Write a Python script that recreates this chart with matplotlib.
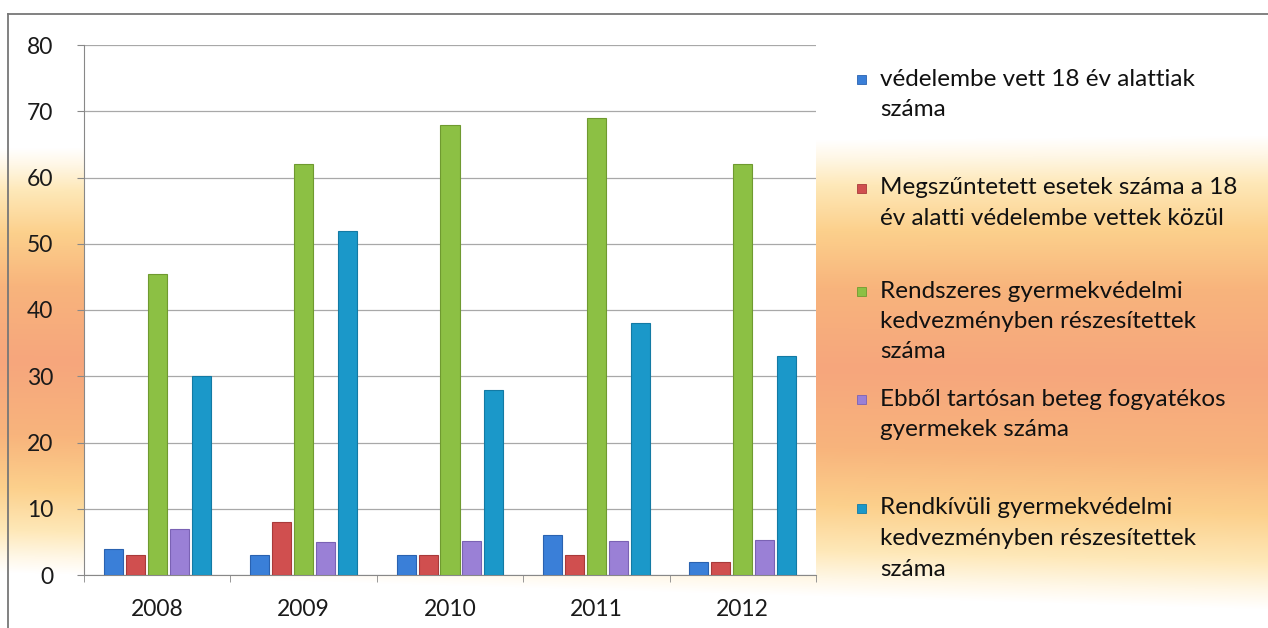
import numpy as np
import matplotlib
matplotlib.use('Agg')
import matplotlib.pyplot as plt
from matplotlib.patches import Rectangle
from matplotlib.lines import Line2D

years = ['2008', '2009', '2010', '2011', '2012']
vedelembe = [4, 3, 3, 6, 2]
megszuntetett = [3, 8, 3, 3, 2]
rendszeres = [45.5, 62, 68, 69, 62]
tartosan_beteg = [7, 5, 5.2, 5.2, 5.3]
rendkivuli = [30, 52, 28, 38, 33]

series_labels = [
    ['védelembe vett 18 év alattiak', 'száma'],
    ['Megszűntetett esetek száma a 18', 'év alatti védelembe vettek közül'],
    ['Rendszeres gyermekvédelmi', 'kedvezményben részesítettek', 'száma'],
    ['Ebből tartósan beteg fogyatékos', 'gyermekek száma'],
    ['Rendkívüli gyermekvédelmi', 'kedvezményben részesítettek', 'száma'],
]
series = [vedelembe, megszuntetett, rendszeres, tartosan_beteg, rendkivuli]
colors = ['#3a7fd8', '#d04f4f', '#8cc044', '#9a80d6', '#1b98c9']
edges = ['#2a62b0', '#a83a3a', '#6f9a30', '#7a62b4', '#137aa4']

plt.rcParams['font.family'] = ['Lato', 'DejaVu Sans']

W, H = 1268, 628
fig = plt.figure(figsize=(W / 100, H / 100), dpi=100)

# orange glow behind the chart
yy, xx = np.mgrid[0:H, 0:W]
center = 360 + 12 * xx / W
half = 212 + 25 * xx / W
d = np.abs(yy - center) / half
stops = [0.0, 0.35, 0.6, 0.8, 0.92, 1.0]
cols = np.array([[246, 166, 124], [248, 180, 124], [252, 208, 140],
                 [254, 232, 184], [255, 247, 230], [255, 255, 255]]) / 255.0
img = np.ones((H, W, 3))
for c in range(3):
    img[..., c] = np.interp(np.clip(d, 0, 1), stops, cols[:, c])
bg = fig.add_axes([0, 0, 1, 1], zorder=-1)
bg.imshow(img, extent=[0, 1, 0, 1], aspect='auto', origin='upper')
bg.axis('off')

# page border
fig.add_artist(Line2D([8 / W, 1], [1 - 14 / H, 1 - 14 / H], color='#777777', lw=1.3))
fig.add_artist(Line2D([8 / W, 8 / W], [0, 1 - 14 / H], color='#777777', lw=1.3))

ax = fig.add_axes([84 / W, 53 / H, 732 / W, 530 / H])
ax.set_facecolor('white')

x = np.arange(len(years))
width = 0.13
pitch = 0.15
for i, (vals, col, ec) in enumerate(zip(series, colors, edges)):
    ax.bar(x + (i - 2) * pitch, vals, width, color=col, edgecolor=ec, linewidth=0.8, zorder=3)

ax.set_xlim(-0.5, 4.5)
ax.set_ylim(0, 80)
ax.set_yticks(range(0, 81, 10))
ax.yaxis.grid(True, color='#a8a8a8', lw=0.9, zorder=0)
ax.set_axisbelow(True)
for s in ['top', 'right']:
    ax.spines[s].set_visible(False)
ax.spines['left'].set_color('#888888')
ax.spines['bottom'].set_color('#888888')
ax.tick_params(axis='y', length=5, color='#888888', pad=17, labelsize=16.5, labelcolor='#1a1a1a')
ax.set_xticks(x)
ax.set_xticklabels(years)
ax.tick_params(axis='x', length=0, pad=17, labelsize=16.5, labelcolor='#1a1a1a')
ax.set_xticks(np.arange(-0.5, 5, 1), minor=True)
ax.tick_params(axis='x', which='minor', length=5, color='#888888')

# legend
entry_y = [79, 188, 291, 399, 508]
for lines, col, ec, ty in zip(series_labels, colors, edges, entry_y):
    fig.add_artist(Rectangle((857 / W, 1 - (ty + 5) / H), 9 / W, 9 / H,
                             facecolor=col, edgecolor=ec, lw=0.6))
    for k, line in enumerate(lines):
        fig.text(880 / W, 1 - (ty + 30.5 * k) / H, line, fontsize=17.5, color='#111111',
                 va='center', ha='left')

fig.savefig('out.png', dpi=100)
